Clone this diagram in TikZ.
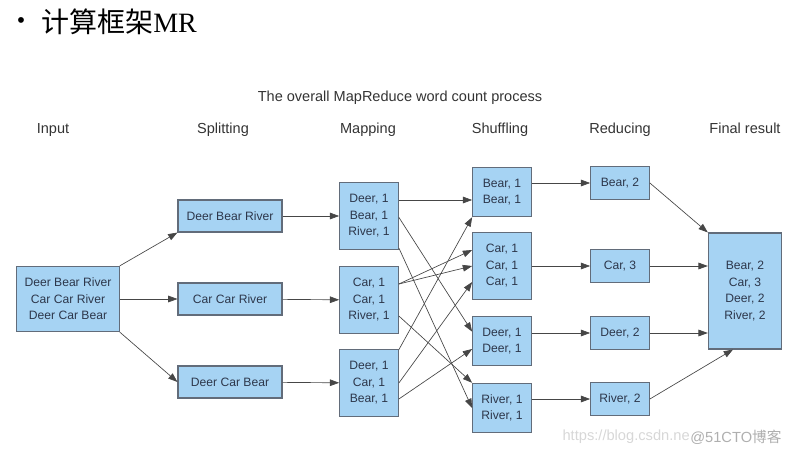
\documentclass[tikz,border=0pt]{standalone}
\usepackage{fontspec}
\setmainfont{Liberation Sans}
\newfontfamily\cjkfont{Noto Sans CJK SC}
\newfontfamily\romanfont{Liberation Serif}
\usetikzlibrary{arrows.meta}

\definecolor{boxblue}{RGB}{166,211,243}
\definecolor{boxline}{RGB}{98,108,122}
\definecolor{wordtext}{RGB}{45,55,75}
\definecolor{flowgray}{RGB}{70,70,70}
\definecolor{marklight}{RGB}{215,215,215}
\definecolor{markgray}{RGB}{175,175,175}

\tikzset{
  wbox/.style={draw=boxline, fill=boxblue, line width=0.8pt, align=center,
    inner sep=0pt, text=wordtext, font=\fontsize{9.1}{12.4}\selectfont},
  flow/.style={draw=flowgray, line width=0.5pt, -{Triangle[length=7pt,width=5pt]}},
  stage/.style={text=black!80, font=\fontsize{10.9}{12}\selectfont},
}

\begin{document}
\begin{tikzpicture}[x=0.75pt, y=-0.75pt]
      \useasboundingbox (0,0) rectangle (802,456);

      % heading
      \node (dot) at (21,23) {\fontsize{16}{16}\selectfont\textbullet};
      \node[anchor=west, inner sep=0pt] (heading) at (41,22)
        {\fontsize{21}{23}\selectfont\cjkfont 计算框架\romanfont MR};

      \node[stage] (caption) at (400,98) {The overall MapReduce word count process};
      \node[stage] (hinput) at (53,130) {Input};
      \node[stage] (hsplit) at (223,130) {Splitting};
      \node[stage] (hmap) at (368,130) {Mapping};
      \node[stage] (hshuf) at (500,130) {Shuffling};
      \node[stage] (hred) at (620,130) {Reducing};
      \node[stage, anchor=base] (hfinal) at (745,134) {Final result};

      % boxes
      \node[wbox, minimum width=77pt, minimum height=49pt] (input) at (68,299)
        {Deer Bear River\\Car Car River\\Deer Car Bear};

      \node[wbox, minimum width=78pt, minimum height=24pt] (split1) at (230,216) {Deer Bear River};
      \node[wbox, minimum width=78pt, minimum height=24pt] (split2) at (230,299) {Car Car River};
      \node[wbox, minimum width=78pt, minimum height=24pt] (split3) at (230,382) {Deer Car Bear};

      \node[wbox, minimum width=44pt, minimum height=50pt] (map1) at (369,216) {Deer, 1\\Bear, 1\\River, 1};
      \node[wbox, minimum width=44pt, minimum height=50pt] (map2) at (369,300) {Car, 1\\Car, 1\\River, 1};
      \node[wbox, minimum width=44pt, minimum height=50pt] (map3) at (369,383) {Deer, 1\\Car, 1\\Bear, 1};

      \node[wbox, minimum width=44pt, minimum height=37pt] (shuf1) at (502,192) {Bear, 1\\Bear, 1};
      \node[wbox, minimum width=44pt, minimum height=50pt] (shuf2) at (502,266) {Car, 1\\Car, 1\\Car, 1};
      \node[wbox, minimum width=44pt, minimum height=37pt] (shuf3) at (502,341) {Deer, 1\\Deer, 1};
      \node[wbox, minimum width=44pt, minimum height=37pt] (shuf4) at (502,408) {River, 1\\River, 1};

      \node[wbox, minimum width=44pt, minimum height=25pt] (red1) at (620,183) {Bear, 2};
      \node[wbox, minimum width=44pt, minimum height=25pt] (red2) at (620,266) {Car, 3};
      \node[wbox, minimum width=44pt, minimum height=25pt] (red3) at (620,333) {Deer, 2};
      \node[wbox, minimum width=44pt, minimum height=25pt] (red4) at (620,399) {River, 2};

      \node[wbox, minimum width=55pt, minimum height=87pt] (final) at (745,291)
        {Bear, 2\\Car, 3\\Deer, 2\\River, 2};

      % input -> splitting -> mapping
      \draw[flow] (input.north east) -- (split1.south west);
      \draw[flow] (input) -- (split2);
      \draw[flow] (input.south east) -- (split3.west);

      \draw[flow] (split1) -- (map1);
      \draw[flow] (split2) -- (map2);
      \draw[flow] (split3) -- (map3);

      % mapping -> shuffling
      \draw[flow] ([yshift=12pt]map1.east) -- ([yshift=12pt]map1.east -| shuf1.west);
      \draw[flow] ([yshift=-1pt]map1.east) -- ([yshift=7pt]shuf3.west);
      \draw[flow] ([yshift=-24pt]map1.east) -- (shuf4.west);
      \draw[flow] ([yshift=12pt]map2.east) -- ([yshift=12pt]shuf2.west);
      \draw[flow] ([yshift=12pt]map2.east) -- (shuf2.west);
      \draw[flow] ([yshift=-12pt]map2.east) -- (shuf4.north west);
      \draw[flow] ([yshift=25pt]map3.east) -- (shuf1.south west);
      \draw[flow] (map3.east) -- ([yshift=-12pt]shuf2.west);
      \draw[flow] ([yshift=-12pt]map3.east) -- ([yshift=-6pt]shuf3.west);

      % shuffling -> reducing -> final result
      \draw[flow] (shuf1.east |- red1.west) -- (red1.west);
      \draw[flow] (shuf2.east |- red2.west) -- (red2.west);
      \draw[flow] (shuf3.east |- red3.west) -- (red3.west);
      \draw[flow] (shuf4.east |- red4.west) -- (red4.west);

      \draw[flow] (red1.east) -- (final.north west);
      \draw[flow] (red2.east) -- (red2.east -| final.west);
      \draw[flow] (red3.east) -- (red3.east -| final.west);
      \draw[flow] (red4.east) -- ([xshift=-9pt]final.south);

      % watermark
      \node[anchor=east, text=marklight, inner sep=0pt, font=\fontsize{11}{12}\selectfont] (csdn) at (690,437) {https://blog.csdn.ne};
      \node[anchor=west, text=markgray, inner sep=0pt, font=\fontsize{11}{12}\selectfont] (cto) at (690,437) {@51CTO\cjkfont 博客};

\end{tikzpicture}
\end{document}
